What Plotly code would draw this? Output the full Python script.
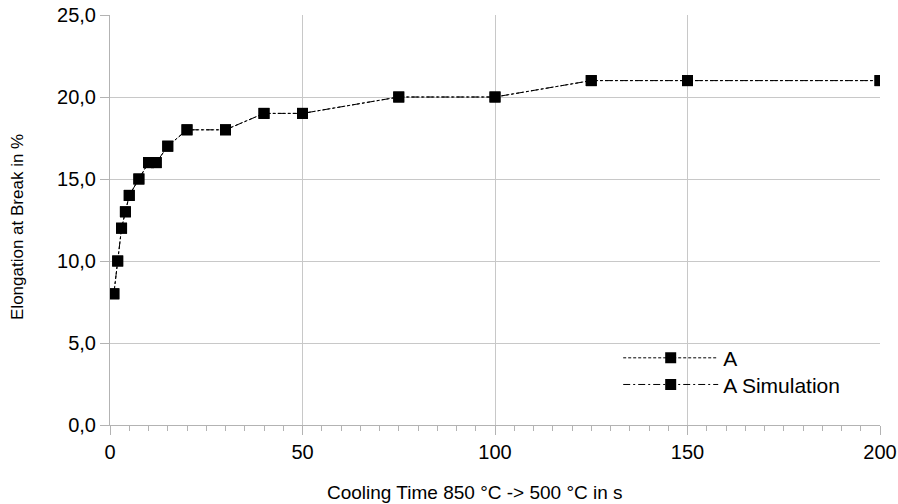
import plotly.graph_objects as go

cooling_time = [1, 2, 3, 4, 5, 7.5, 10, 12, 15, 20, 30, 40, 50, 75, 100, 125, 150, 200]
elong_a = [8, 10, 12, 13, 14, 15, 16, 16, 17, 18, 18, 19, 19, 20, 20, 21, 21, 21]
elong_a_sim = [8, 10, 12, 13, 14, 15, 16, 16, 17, 18, 18, 19, 19, 20, 20, 21, 21, 21]

x_title = "Cooling Time 850 °C -> 500 °C in s"
y_title = "Elongation at Break in %"

fig = go.Figure()
fig.add_trace(go.Scatter(
    x=cooling_time, y=elong_a, name="A", mode="lines+markers",
    line=dict(color="black", width=1, dash="3px,2px"),
    marker=dict(symbol="square", size=11, color="black"),
    legend="legend",
))
fig.add_trace(go.Scatter(
    x=cooling_time, y=elong_a_sim, name="A Simulation", mode="lines+markers",
    line=dict(color="black", width=1, dash="7px,3px,2px,3px"),
    marker=dict(symbol="square", size=11, color="black"),
    legend="legend2",
))

font = "Liberation Sans, Arial, sans-serif"
leg_common = dict(x=0.66, xanchor="left", yanchor="middle",
                  bgcolor="rgba(0,0,0,0)", font=dict(size=21, color="black"),
                  itemwidth=95, borderwidth=0)
fig.update_layout(
    width=898, height=504,
    margin=dict(l=110, r=18, t=15, b=79),
    paper_bgcolor="white", plot_bgcolor="white",
    separators=",.",
    font=dict(family=font, size=20, color="black"),
    showlegend=True,
    legend=dict(y=0.163, **leg_common),
    legend2=dict(y=0.098, **leg_common),
    xaxis=dict(
        range=[0, 200], dtick=50, tick0=0, automargin=False,
        showgrid=True, gridcolor="#c8c8c8", gridwidth=1,
        showline=True, linecolor="#b3b3b3", linewidth=1,
        ticks="outside", ticklen=9, tickcolor="#b3b3b3",
        minor=dict(dtick=5, ticks="outside", ticklen=5, tickcolor="#b3b3b3", showgrid=False),
        zeroline=False, ticklabeloverflow="allow",
        tickfont=dict(size=20),
    ),
    yaxis=dict(
        range=[0, 25], dtick=5, tick0=0, tickformat=".1f", automargin=False,
        showgrid=True, gridcolor="#c8c8c8", gridwidth=1,
        showline=True, linecolor="#b3b3b3", linewidth=1,
        ticks="outside", ticklen=9, tickcolor="#b3b3b3",
        zeroline=False, ticklabeloverflow="allow",
        tickfont=dict(size=20),
    ),
    annotations=[
        dict(text=x_title, xref="paper", yref="paper", x=0.474, y=0,
             xanchor="center", yanchor="middle", yshift=-67, showarrow=False,
             font=dict(size=19)),
        dict(text=y_title, xref="paper", yref="paper", x=0, y=0.483,
             xanchor="center", yanchor="middle", xshift=-92, textangle=-90,
             showarrow=False, font=dict(size=17)),
    ],
)

fig.write_html(
    "out.html",
    config={"displayModeBar": False},
    post_script="document.body.style.margin='0';document.body.style.overflow='hidden';",
)
